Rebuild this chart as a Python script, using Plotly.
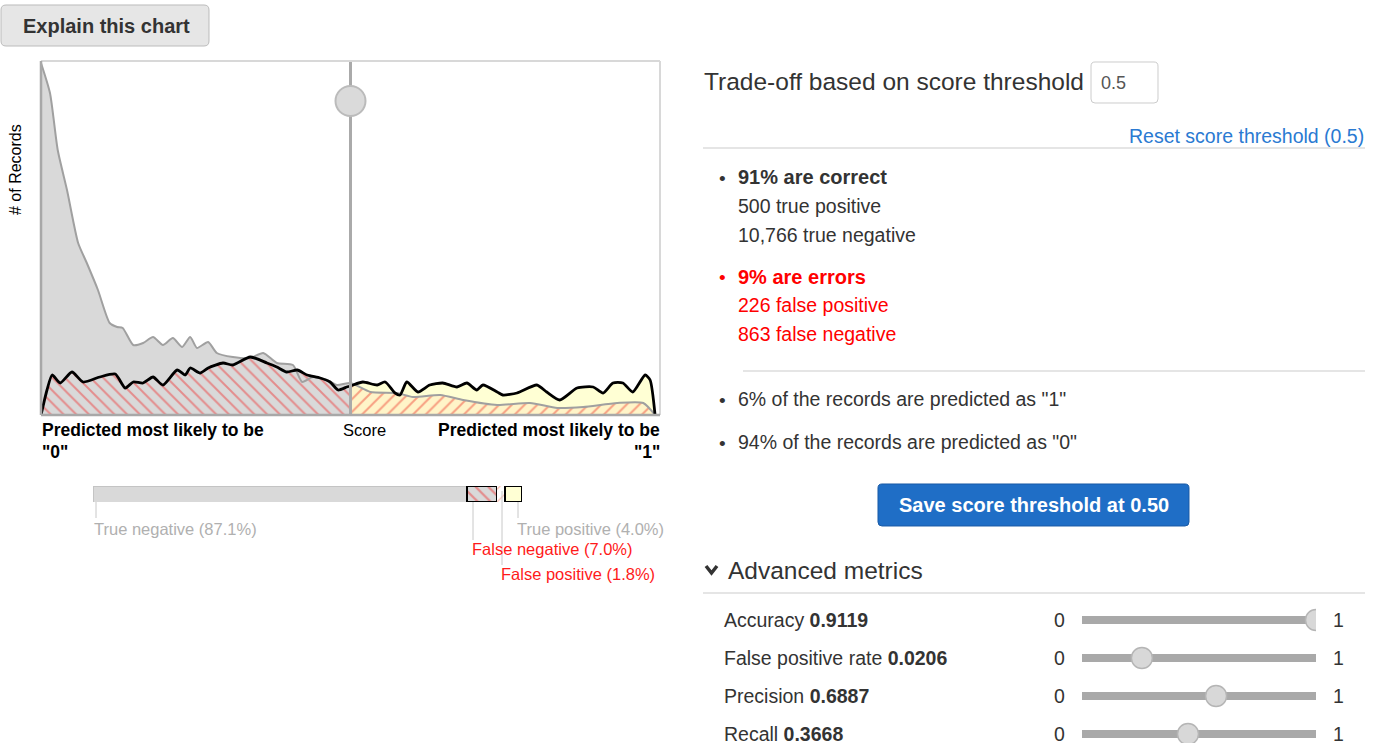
import plotly.graph_objects as go

# ---------------- data ----------------
# distribution of actual "0" records (gray) : score, height
neg_score = [0.0, 0.0145, 0.027, 0.042, 0.060, 0.074, 0.092, 0.111, 0.123, 0.132, 0.149, 0.165, 0.181,
             0.197, 0.213, 0.228, 0.241, 0.252, 0.270, 0.284, 0.310, 0.338, 0.359, 0.381, 0.407, 0.422,
             0.439, 0.462, 0.478, 0.5, 0.532, 0.575, 0.601, 0.645, 0.682, 0.737, 0.790, 0.834, 0.876,
             0.931, 0.973, 0.992]
neg_count = [352, 322, 265, 225, 172, 152, 125, 92, 88, 87, 70, 72, 78,
             70, 77, 68, 78, 67, 73, 62, 58, 57, 62, 52, 50, 33,
             38, 35, 30, 32, 23, 22, 18, 20, 15, 10, 12, 7, 8,
             12, 12, 0]
# distribution of actual "1" records (black)
pos_score = [0.0, 0.0097, 0.018, 0.031, 0.050, 0.068, 0.095, 0.120, 0.136, 0.149, 0.165, 0.181, 0.197,
             0.220, 0.233, 0.241, 0.257, 0.270, 0.294, 0.310, 0.338, 0.365, 0.381, 0.397, 0.414, 0.430,
             0.451, 0.467, 0.480, 0.494, 0.5, 0.504, 0.520, 0.543, 0.556, 0.572, 0.580, 0.591, 0.609,
             0.628, 0.649, 0.672, 0.688, 0.704, 0.714, 0.737, 0.746, 0.769, 0.801, 0.817, 0.838, 0.866,
             0.892, 0.908, 0.924, 0.940, 0.956, 0.976, 0.984, 0.992]
pos_count = [0, 25, 40, 32, 43, 33, 38, 41, 27, 33, 32, 38, 30,
             45, 40, 47, 42, 47, 52, 50, 58, 52, 48, 43, 45, 40,
             37, 33, 25, 28, 29, 30, 33, 30, 33, 22, 20, 33, 23,
             30, 32, 28, 32, 25, 30, 23, 20, 22, 30, 23, 15, 27,
             28, 22, 32, 32, 23, 40, 35, 0]
threshold = 0.5
y_max = 354

# confusion summary bar
seg_names = ["True negative", "False negative", "False positive", "True positive"]
seg_pct = [87.1, 7.0, 1.8, 4.0]

# counts
tp, tn, fp, fn = 500, 10766, 226, 863
pct_correct, pct_errors = 91, 9
pct_pred1, pct_pred0 = 6, 94

# advanced metrics
metric_names = ["Accuracy", "False positive rate", "Precision", "Recall"]
metric_values = ["0.9119", "0.0206", "0.6887", "0.3668"]
slider_pos = [1.0, 0.256, 0.573, 0.453]

# ---------------- helpers ----------------
W, H = 1382, 745
FONT = "Arial, Liberation Sans, sans-serif"


def X(px):
    return px / W


def Y(py):
    return 1 - py / H


annotations = []
shapes = []


def txt(x, y, s, size=19.5, color="#333333", anchor="left", yanchor="middle", angle=0):
    annotations.append(dict(x=X(x), y=Y(y), xref="paper", yref="paper", text=s, showarrow=False,
                            xanchor=anchor, yanchor=yanchor, textangle=angle,
                            font=dict(size=size, color=color, family=FONT)))


def line(x0, y0, x1, y1, color="#dddddd", width=1):
    shapes.append(dict(type="line", xref="paper", yref="paper", x0=X(x0), y0=Y(y0), x1=X(x1), y1=Y(y1),
                       line=dict(color=color, width=width)))


def rrect(x0, y0, x1, y1, r, fill, border, bw=1):
    pts = [("M", x0 + r, y0), ("L", x1 - r, y0), ("Q", x1, y0, x1, y0 + r), ("L", x1, y1 - r),
           ("Q", x1, y1, x1 - r, y1), ("L", x0 + r, y1), ("Q", x0, y1, x0, y1 - r), ("L", x0, y0 + r),
           ("Q", x0, y0, x0 + r, y0)]
    p = ""
    for item in pts:
        cmd = item[0]
        coords = item[1:]
        seg = []
        for i in range(0, len(coords), 2):
            seg.append(f"{X(coords[i]):.6f},{Y(coords[i + 1]):.6f}")
        p += cmd + " " + " ".join(seg) + " "
    p += "Z"
    shapes.append(dict(type="path", xref="paper", yref="paper", path=p, fillcolor=fill,
                       line=dict(color=border, width=bw), layer="below"))


fig = go.Figure()

# ---------------- main density chart ----------------
nl = [(s, c) for s, c in zip(neg_score, neg_count) if s <= threshold]
nr = [(s, c) for s, c in zip(neg_score, neg_count) if s >= threshold]
pl = [(s, c) for s, c in zip(pos_score, pos_count) if s <= threshold]
pr = [(s, c) for s, c in zip(pos_score, pos_count) if s >= threshold]

GRAYFILL = "#d9d9d9"
YELLOW = "#ffffd4"
RED = "#ee4040"
SM = 0.6

fig.add_trace(go.Scatter(x=[a for a, b in nl], y=[b for a, b in nl], fill="tozeroy", mode="lines",
                         line=dict(width=0, shape="spline", smoothing=SM), fillcolor=GRAYFILL, hoverinfo="skip"))
fig.add_trace(go.Scatter(x=[a for a, b in pl], y=[b for a, b in pl], fill="tozeroy", mode="lines",
                         line=dict(width=0, shape="spline", smoothing=SM), fillcolor=GRAYFILL,
                         fillpattern=dict(shape="\\", fgcolor=RED, bgcolor=GRAYFILL, size=9, solidity=0.22),
                         hoverinfo="skip"))
fig.add_trace(go.Scatter(x=[a for a, b in pr], y=[b for a, b in pr], fill="tozeroy", mode="lines",
                         line=dict(width=0, shape="spline", smoothing=SM), fillcolor=YELLOW, hoverinfo="skip"))
fig.add_trace(go.Scatter(x=[a for a, b in nr], y=[b for a, b in nr], fill="tozeroy", mode="lines",
                         line=dict(width=0, shape="spline", smoothing=SM), fillcolor=YELLOW,
                         fillpattern=dict(shape="/", fgcolor="#f04a3a", bgcolor="#fff4c8", size=9, solidity=0.22),
                         hoverinfo="skip"))
fig.add_trace(go.Scatter(x=neg_score, y=neg_count, mode="lines",
                         line=dict(color="#a0a0a0", width=2, shape="spline", smoothing=SM), hoverinfo="skip"))
fig.add_trace(go.Scatter(x=pos_score, y=pos_count, mode="lines",
                         line=dict(color="#000000", width=2.8, shape="spline", smoothing=SM), hoverinfo="skip"))
# threshold line + handle
fig.add_trace(go.Scatter(x=[threshold, threshold], y=[0, y_max], mode="lines",
                         line=dict(color="#aaaaaa", width=3), hoverinfo="skip"))
fig.add_trace(go.Scatter(x=[threshold], y=[y_max * 0.887], mode="markers",
                         marker=dict(size=30, color="#dadada", line=dict(color="#bbbbbb", width=2)),
                         hoverinfo="skip"))

# chart frame
for (x0, y0, x1, y1, col, w) in [(0, 1, 1, 1, "#d8d8d8", 2), (1, 0, 1, 1, "#d8d8d8", 2),
                                  (0, 0, 0, 1, "#a8a8a8", 2.5), (0, 0, 1, 0, "#a8a8a8", 2.5)]:
    shapes.append(dict(type="line", xref="x domain", yref="y domain", x0=x0, y0=y0, x1=x1, y1=y1,
                       line=dict(color=col, width=w)))

# ---------------- confusion bar ----------------
bar_styles = [
    dict(color=GRAYFILL, line=dict(color="#c4c4c4", width=1)),
    dict(color=GRAYFILL, line=dict(color="#000000", width=2.5),
         pattern=dict(shape="\\", fgcolor=RED, bgcolor=GRAYFILL, size=9, solidity=0.25)),
    dict(color="#ffffff", line=dict(color="#ffffff", width=0),
         pattern=dict(shape="/", fgcolor="#f56a4a", bgcolor="#ffffff", size=9, solidity=0.12)),
    dict(color=YELLOW, line=dict(color="#000000", width=2.5)),
]
for name, pct, st in zip(seg_names, seg_pct, bar_styles):
    fig.add_trace(go.Bar(x=[pct], y=[0], orientation="h", marker=st, width=1,
                         xaxis="x2", yaxis="y2", hoverinfo="skip"))

# leader lines + labels
line(96, 502, 96, 518, "#c8c8c8", 1)
line(473, 502, 473, 540, "#c8c8c8", 1)
line(502, 491, 502, 565, "#c8c8c8", 1)
line(518, 502, 518, 518, "#c8c8c8", 1)
txt(92, 529, f"{seg_names[0]} ({seg_pct[0]:.1f}%)", 16.5, "#b0b0b0")
txt(515, 529, f"{seg_names[3]} ({seg_pct[3]:.1f}%)", 16.5, "#b0b0b0")
txt(470, 549, f"{seg_names[1]} ({seg_pct[1]:.1f}%)", 16.5, "#ff1a1a")
txt(499, 574, f"{seg_names[2]} ({seg_pct[2]:.1f}%)", 16.5, "#ff1a1a")

# chart labels
txt(15, 170, "# of Records", 16, "#000000", anchor="center", angle=-90)
txt(40, 430, "<b>Predicted most likely to be</b>", 17.5, "#000000")
txt(40, 452, "<b>\"0\"</b>", 17.5, "#000000")
txt(364, 430, "Score", 16.5, "#000000", anchor="center")
txt(662, 430, "<b>Predicted most likely to be</b>", 17.5, "#000000", anchor="right")
txt(662, 452, "<b>\"1\"</b>", 17.5, "#000000", anchor="right")

# explain button
rrect(1, 5, 209, 46, 5, "#e6e6e6", "#bcbcbc", 1)
txt(106, 26, "<b>Explain this chart</b>", 20, "#333333", anchor="center")

# ---------------- right panel ----------------
txt(702, 81, "Trade-off based on score threshold", 24.5, "#333333")
rrect(1091, 62, 1158, 103, 4, "#ffffff", "#cccccc", 1)
txt(1099, 83, f"{threshold}", 18, "#555555")
txt(1366, 136, f"Reset score threshold ({threshold})", 19.5, "#2a7ad2", anchor="right")
line(703, 148, 1365, 148, "#dddddd", 1.5)

txt(717, 178, "•", 19, "#333333")
txt(736, 177, f"<b>{pct_correct}% are correct</b>", 20, "#333333")
txt(736, 206, f"{tp:,} true positive", 19.5, "#333333")
txt(736, 235, f"{tn:,} true negative", 19.5, "#333333")
txt(717, 278, "•", 19, "#ff0000")
txt(736, 277, f"<b>{pct_errors}% are errors</b>", 20, "#ff0000")
txt(736, 305, f"{fp:,} false positive", 19.5, "#ff0000")
txt(736, 334, f"{fn:,} false negative", 19.5, "#ff0000")
line(743, 371, 1365, 371, "#dddddd", 1.5)

txt(717, 400, "•", 19, "#333333")
txt(736, 399, f"{pct_pred1}% of the records are predicted as \"1\"", 19.5, "#333333")
txt(717, 443, "•", 19, "#333333")
txt(736, 442, f"{pct_pred0}% of the records are predicted as \"0\"", 19.5, "#333333")

rrect(878, 484, 1189, 526, 4, "#1f6ec6", "#1a5ba6", 1)
txt(1034, 505, f"<b>Save score threshold at {threshold:.2f}</b>", 20, "#ffffff", anchor="center")

# advanced metrics header with chevron
shapes.append(dict(type="path", xref="paper", yref="paper",
                   path=f"M {X(706):.6f},{Y(566):.6f} L {X(711.5):.6f},{Y(573):.6f} L {X(717):.6f},{Y(566):.6f}",
                   line=dict(color="#333333", width=3.5)))
txt(726, 570, "Advanced metrics", 24.5, "#333333")
line(703, 593, 1365, 593, "#dddddd", 1.5)

row_y = [620, 658, 696, 734]
for name, val, yy in zip(metric_names, metric_values, row_y):
    txt(722, yy, f"{name} <b>{val}</b>", 19.5, "#333333")
    txt(1059, yy, "0", 19.5, "#333333", anchor="center")
    txt(1338, yy, "1", 19.5, "#333333", anchor="center")

# slider tracks and knobs
for i in range(len(metric_names)):
    fig.add_trace(go.Scatter(x=[0, 1], y=[i, i], mode="lines+markers", xaxis="x3", yaxis="y3",
                             line=dict(color="#a9a9a9", width=8),
                             marker=dict(size=8, color="#a9a9a9"), hoverinfo="skip"))
fig.add_trace(go.Scatter(x=slider_pos, y=list(range(len(slider_pos))), mode="markers", xaxis="x3", yaxis="y3",
                         marker=dict(size=21, color="#d8d8d8", line=dict(color="#b5b5b5", width=1.5)),
                         hoverinfo="skip"))

ax_hidden = dict(visible=False, showgrid=False, zeroline=False, fixedrange=True)
fig.update_layout(
    width=W, height=H, margin=dict(l=0, r=0, t=0, b=0), autosize=False,
    paper_bgcolor="#ffffff", plot_bgcolor="rgba(0,0,0,0)", showlegend=False,
    barmode="stack",
    xaxis=dict(domain=[X(41), X(660)], range=[0, 1], **ax_hidden),
    yaxis=dict(domain=[Y(415), Y(61)], range=[0, y_max], **ax_hidden),
    xaxis2=dict(domain=[X(93), X(522)], range=[0, sum(seg_pct)], anchor="y2", **ax_hidden),
    yaxis2=dict(domain=[Y(502), Y(486)], range=[-0.5, 0.5], anchor="x2", **ax_hidden),
    xaxis3=dict(domain=[X(1082), X(1316)], range=[0, 1], anchor="y3", **ax_hidden),
    yaxis3=dict(domain=[Y(743), Y(601)], range=[(743 - 620) / 38, -0.5], anchor="x3", **ax_hidden),
    annotations=annotations, shapes=shapes,
    font=dict(family=FONT),
)

fig.write_html("out.html", config={"displayModeBar": False},
               post_script="document.body.style.margin='0px';document.body.style.overflow='hidden';")
